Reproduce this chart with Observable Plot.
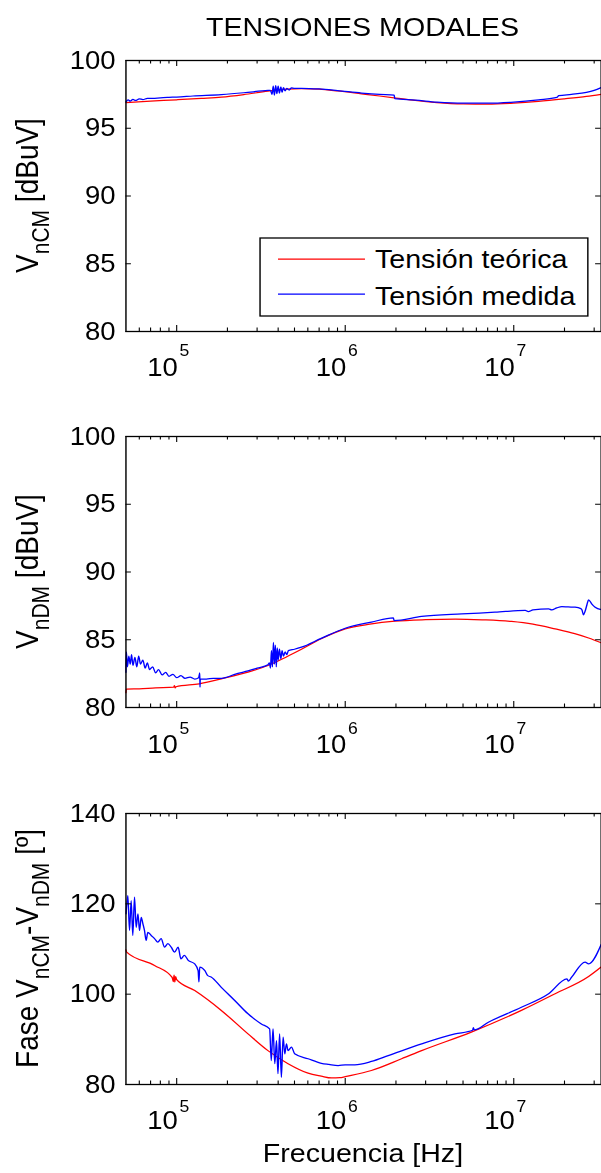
<!DOCTYPE html>
<html><head><meta charset="utf-8">
<script src="https://cdn.jsdelivr.net/npm/d3@7"></script>
<script src="https://cdn.jsdelivr.net/npm/@observablehq/plot@0.6"></script>
<style>
html,body{margin:0;padding:0;background:#fff;width:601px;height:1173px;overflow:hidden;}
#stage{position:absolute;left:0;top:0;width:547px;height:1173px;transform:scaleX(1.1);transform-origin:0 0;font-family:"Liberation Sans",Arial,Helvetica,sans-serif;}
.panel{position:absolute;left:0;}
#overlay{position:absolute;left:0;top:0;}
</style></head><body><div id="stage"></div>
<script>
// ---------- data ----------
const xDomain = [5.0e4, 3.3e7];
const xMajor = [1e5, 1e6, 1e7];
const xExp = ["5", "6", "7"];
const xMinor = [6e4,7e4,8e4,9e4,2e5,3e5,4e5,5e5,6e5,7e5,8e5,9e5,2e6,3e6,4e6,5e6,6e6,7e6,8e6,9e6,2e7,3e7];
const yTicksDb = [80, 85, 90, 95, 100];
const yTicksPhase = [80, 100, 120, 140];

const title = "TENSIONES MODALES";
const xLabel = "Frecuencia [Hz]";
const legendLabels = ["Tensión teórica", "Tensión medida"];
const seriesColors = ["#ff0000", "#0000ff"];

// Panel 1: V_nCM [dBuV]  [frequency Hz, value]
const cmTeorica = [[5.0e4,96.9],[7.0e4,97.0],[1.0e5,97.1],[1.4e5,97.2],[1.84e5,97.29],[2.5e5,97.48],[3.48e5,97.74],[4.5e5,97.88],[5.5e5,97.92],[7.0e5,97.88],[9.0e5,97.75],[1.25e6,97.54],[1.6e6,97.38],[2.0e6,97.23],[2.6e6,97.05],[3.5e6,96.9],[5.0e6,96.8],[7.0e6,96.78],[1.0e7,96.85],[1.4e7,96.98],[2.0e7,97.17],[2.7e7,97.35],[3.3e7,97.5]];
const cmMedida = [[5.0e4,96.95],[5.15e4,97.1],[5.3e4,97.0],[5.5e4,97.13],[5.7e4,97.05],[6.0e4,97.17],[6.3e4,97.12],[6.7e4,97.2],[7.2e4,97.2],[8.0e4,97.25],[9.0e4,97.28],[1.0e5,97.3],[1.25e5,97.38],[1.84e5,97.49],[2.5e5,97.62],[3.48e5,97.79],[3.6e5,97.8],[3.68e5,97.5],[3.74e5,98.1],[3.8e5,97.45],[3.87e5,98.15],[3.93e5,97.55],[4.0e5,98.1],[4.07e5,97.6],[4.15e5,98.05],[4.22e5,97.65],[4.3e5,98.0],[4.4e5,97.75],[4.5e5,97.95],[4.65e5,97.82],[4.8e5,97.98],[5.0e5,97.95],[5.5e5,97.95],[7.0e5,97.9],[9.0e5,97.78],[1.25e6,97.6],[1.6e6,97.5],[1.95e6,97.45],[1.97e6,97.18],[2.6e6,97.08],[3.5e6,96.93],[5.0e6,96.85],[7.0e6,96.85],[1.0e7,96.93],[1.4e7,97.1],[1.8e7,97.28],[1.85e7,97.4],[2.2e7,97.5],[2.7e7,97.65],[3.0e7,97.8],[3.3e7,98.0]];

// Panel 2: V_nDM [dBuV]
const dmTeorica = [[5.0e4,81.1],[5.03e4,81.35],[6.0e4,81.38],[7.5e4,81.45],[9.6e4,81.5],[9.7e4,81.62],[9.8e4,81.44],[9.9e4,81.53],[1.36e5,81.75],[1.84e5,82.12],[2.65e5,82.61],[3.48e5,83.1],[4.5e5,83.75],[5.5e5,84.3],[7.2e5,85.07],[1.0e6,85.8],[1.4e6,86.15],[1.97e6,86.37],[3.0e6,86.48],[4.5e6,86.52],[6.5e6,86.47],[9.7e6,86.35],[1.3e7,86.15],[1.76e7,85.8],[2.3e7,85.45],[2.78e7,85.13],[3.3e7,84.78]];
const dmMedida = [[5.0e4,82.6],[5.03e4,84.1],[5.1e4,83.0],[5.2e4,83.8],[5.3e4,83.2],[5.4e4,83.9],[5.5e4,83.1],[5.65e4,83.7],[5.8e4,83.0],[5.95e4,83.8],[6.1e4,83.2],[6.3e4,83.5],[6.5e4,82.9],[6.7e4,83.3],[6.9e4,82.8],[7.2e4,83.0],[7.5e4,82.55],[7.8e4,82.8],[8.2e4,82.4],[8.6e4,82.6],[9.0e4,82.3],[9.5e4,82.45],[1.0e5,82.2],[1.06e5,82.35],[1.12e5,82.15],[1.2e5,82.25],[1.28e5,82.1],[1.35e5,82.2],[1.37e5,82.55],[1.375e5,81.5],[1.38e5,82.1],[1.5e5,82.1],[1.65e5,82.15],[1.84e5,82.15],[2.0e5,82.25],[2.21e5,82.45],[2.65e5,82.7],[3.0e5,82.9],[3.48e5,83.15],[3.55e5,83.3],[3.6e5,82.9],[3.65e5,84.2],[3.7e5,83.0],[3.75e5,84.8],[3.8e5,83.2],[3.85e5,84.6],[3.9e5,83.0],[3.95e5,84.4],[4.0e5,83.5],[4.07e5,84.3],[4.15e5,83.6],[4.22e5,84.2],[4.3e5,83.8],[4.4e5,84.1],[4.5e5,83.9],[4.6e5,84.2],[5.0e5,84.3],[5.5e5,84.45],[7.2e5,85.1],[1.0e6,85.85],[1.43e6,86.3],[1.93e6,86.62],[1.95e6,86.42],[2.84e6,86.72],[4.91e6,86.91],[7.74e6,87.03],[1.17e7,87.16],[1.22e7,87.08],[1.3e7,87.2],[1.61e7,87.28],[1.68e7,87.2],[1.8e7,87.35],[1.93e7,87.45],[2.1e7,87.42],[2.31e7,87.4],[2.5e7,87.3],[2.54e7,87.2],[2.59e7,86.84],[2.65e7,87.1],[2.72e7,87.6],[2.78e7,87.95],[2.9e7,87.65],[3.04e7,87.4],[3.3e7,87.23]];

// Panel 3: Fase V_nCM - V_nDM [º]
const phTeorica = [[5.0e4,109.8],[5.05e4,109.3],[7.39e4,106.35],[9.4e4,103.7],[9.55e4,102.8],[9.65e4,104.2],[9.75e4,102.7],[9.85e4,103.9],[1.0e5,103.2],[1.28e5,100.8],[1.84e5,96.4],[2.65e5,91.2],[3.48e5,87.5],[4.58e5,84.6],[6.02e5,82.5],[7.2e5,81.85],[8.3e5,81.45],[9.3e5,81.5],[1.0e6,81.75],[1.43e6,83.1],[2.16e6,85.7],[2.84e6,87.5],[5.6e6,91.6],[1.11e7,96.4],[1.76e7,100.1],[2.78e7,103.9],[3.3e7,106.0]];
const phMedida = [[5.01e4,117.8],[5.13e4,121.8],[5.25e4,114.1],[5.37e4,120.7],[5.49e4,113.0],[5.62e4,121.5],[5.75e4,114.8],[5.89e4,117.8],[6.02e4,114.1],[6.16e4,117.0],[6.3e4,115.6],[6.44e4,114.1],[6.59e4,111.9],[6.74e4,113.7],[7.06e4,113.0],[7.39e4,112.3],[7.73e4,111.5],[8.09e4,112.3],[8.47e4,110.4],[8.87e4,111.2],[9.28e4,110.4],[9.71e4,109.3],[1.02e5,110.4],[1.06e5,107.8],[1.11e5,108.6],[1.17e5,107.5],[1.28e5,106.7],[1.34e5,105.2],[1.355e5,102.7],[1.37e5,106.0],[1.47e5,105.2],[1.53e5,104.1],[1.6e5,103.8],[1.84e5,101.5],[2.21e5,98.6],[2.65e5,95.65],[3.18e5,93.4],[3.56e5,92.3],[3.64e5,85.3],[3.73e5,92.3],[3.82e5,84.6],[3.91e5,89.7],[3.99e5,82.4],[4.08e5,91.2],[4.18e5,81.6],[4.28e5,90.5],[4.38e5,86.8],[4.48e5,89.0],[4.58e5,87.5],[4.8e5,88.3],[5.01e5,86.8],[6.02e5,85.7],[7.22e5,84.7],[8.0e5,84.45],[9.08e5,84.2],[1.0e6,84.35],[1.14e6,84.36],[1.43e6,85.1],[1.8e6,86.4],[2.84e6,89.0],[4.48e6,91.2],[5.7e6,92.0],[5.76e6,92.6],[5.82e6,92.1],[7.07e6,93.8],[1.11e7,97.1],[1.61e7,100.1],[2.07e7,103.4],[2.11e7,102.9],[2.2e7,103.7],[2.65e7,107.1],[2.78e7,106.7],[3.3e7,111.0]];

// ---------- drawing ----------
const FONT = '"Liberation Sans", Arial, Helvetica, sans-serif';
const W = 547, ML = 114, MR = 1;
const stage = document.getElementById("stage");

function panel({top, height, mt, mb, yDomain, yTicks, teo, med, pad, expDy}) {
  const innerW = W - ML - MR, innerH = height - mt - mb;
  const acc = {x: d => d[0], y: d => d[1]};
  const chart = Plot.plot({
    width: W, height, marginLeft: ML, marginRight: MR, marginTop: mt, marginBottom: mb,
    style: {fontFamily: FONT, background: "transparent", color: "black", overflow: "visible"},
    x: {type: "log", domain: xDomain, label: null},
    y: {domain: yDomain, label: null},
    marks: [
      Plot.line(teo, {...acc, stroke: seriesColors[0], strokeWidth: 1.25, curve: "monotone-x"}),
      Plot.line(med, {...acc, stroke: seriesColors[1], strokeWidth: 1.25, curve: "monotone-x"}),
      Plot.tickX(xMajor, {x: d => d, insetTop: innerH - 6, stroke: "black"}),
      Plot.tickX(xMajor, {x: d => d, insetBottom: innerH - 6, stroke: "black"}),
      Plot.tickX(xMinor, {x: d => d, insetTop: innerH - 3.5, stroke: "black"}),
      Plot.tickX(xMinor, {x: d => d, insetBottom: innerH - 3.5, stroke: "black"}),
      Plot.tickY(yTicks, {y: d => d, insetRight: innerW - 5, stroke: "black"}),
      Plot.tickY(yTicks, {y: d => d, insetLeft: innerW - 5, stroke: "black"}),
      Plot.axisY({ticks: yTicks, tickSize: 0, tickPadding: 9.5, fontSize: 25, label: null}),
      Plot.axisX({ticks: xMajor, tickFormat: () => "10", tickSize: 0, tickPadding: pad, textAnchor: "end", dx: 1, fontSize: 25, label: null}),
      Plot.text(xMajor, {x: d => d, text: (d, i) => xExp[i], frameAnchor: "bottom", lineAnchor: "bottom", textAnchor: "start", dx: 2.5, dy: expDy, fontSize: 16}),
      Plot.frame({stroke: "black", strokeWidth: 1.3})
    ]
  });
  chart.classList.add("panel");
  chart.style.top = top + "px";
  stage.appendChild(chart);
}

panel({top: 0, height: 400, mt: 60, mb: 69, yDomain: [80, 100], yTicks: yTicksDb, teo: cmTeorica, med: cmMedida, pad: 26.3, expDy: 24});
panel({top: 400, height: 380, mt: 36, mb: 73, yDomain: [80, 100], yTicks: yTicksDb, teo: dmTeorica, med: dmMedida, pad: 27.5, expDy: 26});
panel({top: 780, height: 393, mt: 33, mb: 89, yDomain: [80, 140], yTicks: yTicksPhase, teo: phTeorica, med: phMedida, pad: 26.5, expDy: 27});

// overlay: title, axis labels with subscripts, legend
const ov = d3.select(stage).append("svg").attr("id", "overlay")
  .attr("width", W).attr("height", 1173).attr("font-family", FONT);

ov.append("text").attr("x", 329.5).attr("y", 36).attr("text-anchor", "middle")
  .attr("font-size", 26).text(title);
ov.append("text").attr("x", 330).attr("y", 1162).attr("text-anchor", "middle")
  .attr("font-size", 26).text(xLabel);

function ylabel(x, yc, parts) {
  const t = ov.append("text").attr("transform", `translate(${x},${yc}) rotate(-90)`)
    .attr("text-anchor", "middle").attr("font-size", 28);
  let shift = 0;
  for (const [s, sub] of parts) {
    const target = sub ? 10 : 0;
    t.append("tspan").attr("dy", target - shift).attr("font-size", sub ? 21 : 28).text(s);
    shift = target;
  }
}
ylabel(34.8, 195.5, [["V", false], ["nCM", true], [" [dBuV]", false]]);
ylabel(34.8, 571.5, [["V", false], ["nDM", true], [" [dBuV]", false]]);
ylabel(34.8, 948.5, [["Fase V", false], ["nCM", true], ["-V", false], ["nDM", true], [" [º]", false]]);

// legend
const lg = ov.append("g");
lg.append("rect").attr("x", 236.4).attr("y", 238).attr("width", 298).attr("height", 78)
  .attr("fill", "white").attr("stroke", "black").attr("stroke-width", 1.3);
[259, 294].forEach((y, i) => {
  lg.append("line").attr("x1", 252.7).attr("x2", 331.8).attr("y1", y).attr("y2", y)
    .attr("stroke", seriesColors[i]).attr("stroke-width", 1.25);
  lg.append("text").attr("x", 340.9).attr("y", [268.5, 305][i]).attr("font-size", 26).text(legendLabels[i]);
});
</script>
</body></html>
